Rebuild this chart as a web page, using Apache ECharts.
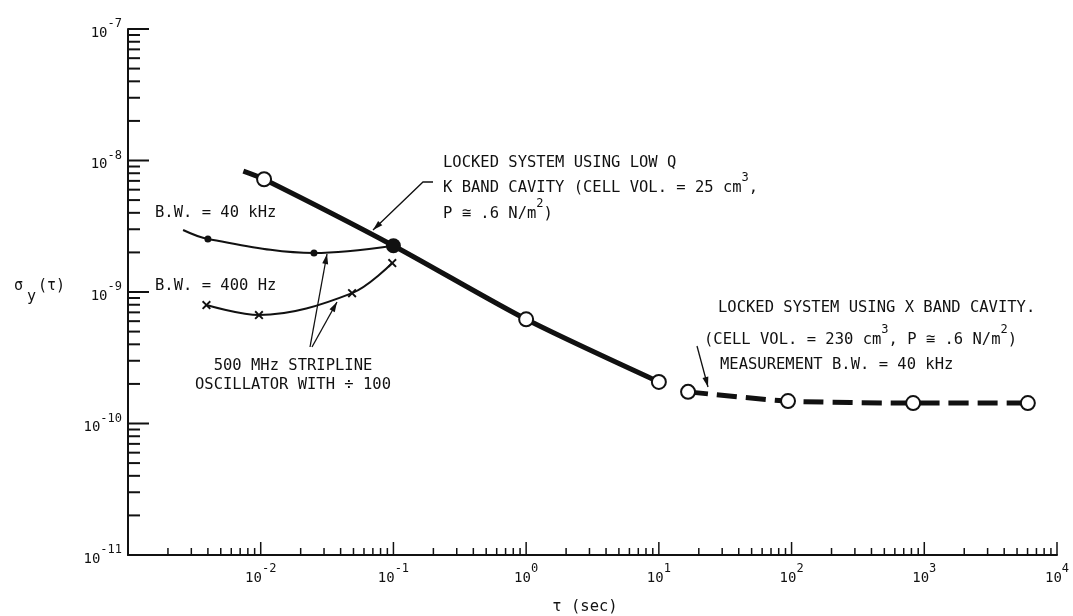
<!DOCTYPE html>
<html><head><meta charset="utf-8">
<script src="https://cdn.jsdelivr.net/npm/echarts@6/dist/echarts.min.js"></script>
<style>html,body{margin:0;padding:0;background:#fff}#c{width:1073px;height:616px}</style>
</head><body><div id="c"></div>
<script>
// ---- data ----
const lockedKTau    = [0.0074, 0.0106, 0.1, 1, 10];
const lockedKSigma  = [8.3e-9, 7.2e-9, 2.25e-9, 6.2e-10, 2.07e-10];
const lockedKMarker = ['none', 'open', 'filled', 'open', 'open'];
const lockedXTau    = [16.6, 94, 824, 6030];
const lockedXSigma  = [1.74e-10, 1.48e-10, 1.43e-10, 1.43e-10];
const bw40kTau      = [0.0026, 0.0040, 0.0252, 0.1];
const bw40kSigma    = [2.96e-9, 2.53e-9, 1.98e-9, 2.25e-9];
const bw40kMarker   = ['none', 'dot', 'dot', 'none'];
const bw400Tau      = [0.0039, 0.0097, 0.0488, 0.098];
const bw400Sigma    = [7.96e-10, 6.68e-10, 9.8e-10, 1.66e-9];
const xDecadeExponents = [-3, -2, -1, 0, 1, 2, 3, 4];
const yDecadeExponents = [-11, -10, -9, -8, -7];
const minorMantissas = [2, 3, 4, 5, 6, 7, 8, 9];

const FONT = '"DejaVu Sans Mono", monospace';
const INK = '#111';

function ticksFor(exps) {
  const out = [];
  exps.forEach((e, i) => {
    out.push([Math.pow(10, e), 1]);
    if (i < exps.length - 1) minorMantissas.forEach(m => out.push([m * Math.pow(10, e), 0]));
  });
  return out;
}
const xTicks = ticksFor(xDecadeExponents).filter(t => t[0] > 0.0011);
const yTicks = ticksFor(yDecadeExponents).filter(t => t[0] > 1.1e-11);

const openSym = {symbol: 'circle', symbolSize: 14, itemStyle: {color: '#fff', borderColor: INK, borderWidth: 2}};
const filledSym = {symbol: 'circle', symbolSize: 15, itemStyle: {color: INK, borderColor: INK, borderWidth: 0}};
const dotSym = {symbol: 'circle', symbolSize: 7, itemStyle: {color: INK, borderWidth: 0}};
const crossPath = 'path://M0,1.5L1.5,0L5,3.5L8.5,0L10,1.5L6.5,5L10,8.5L8.5,10L5,6.5L1.5,10L0,8.5L3.5,5Z';

function markerItem(x, y, kind) {
  const base = {value: [x, y]};
  if (kind === 'open') return Object.assign(base, openSym);
  if (kind === 'filled') return Object.assign(base, filledSym);
  if (kind === 'dot') return Object.assign(base, dotSym);
  return Object.assign(base, {symbol: 'none'});
}

const rich = {
  b: {fontFamily: FONT, fontSize: 14, color: INK, lineHeight: 22, verticalAlign: 'bottom'},
  s: {fontFamily: FONT, fontSize: 12, color: INK, verticalAlign: 'top'}
};
function powLabel(v) {
  const e = Math.round(Math.log10(v));
  return '{b|10}{s|' + e + '}';
}

function txt(x, y, str, align) {
  return {type: 'text', x: x, y: y, silent: true, z: 50,
    style: {text: str, fill: INK, font: '15.5px ' + FONT, textAlign: align || 'left', textVerticalAlign: 'middle',
      rich: {t: {fontFamily: FONT, fontSize: 15.5, color: INK, lineHeight: 24, verticalAlign: 'bottom'},
             s: {fontFamily: FONT, fontSize: 12, color: INK, verticalAlign: 'top'}}}};
}
function arrow(pts) {
  const [x1, y1] = pts[pts.length - 2], [x2, y2] = pts[pts.length - 1];
  const a = Math.atan2(y2 - y1, x2 - x1), L = 10, W = 3;
  const bx = x2 - L * Math.cos(a), by = y2 - L * Math.sin(a);
  const head = [[x2, y2], [bx + W * Math.sin(a), by - W * Math.cos(a)], [bx - W * Math.sin(a), by + W * Math.cos(a)]];
  return [
    {type: 'polyline', silent: true, z: 50, shape: {points: pts}, style: {stroke: INK, lineWidth: 1.3, fill: null}},
    {type: 'polygon', silent: true, z: 50, shape: {points: head}, style: {fill: INK}}
  ];
}

const chart = echarts.init(document.getElementById('c'), null, {renderer: 'canvas'});
const option = {
  backgroundColor: '#fff',
  animation: false,
  grid: {left: 128, right: 16, top: 29, bottom: 61, containLabel: false},
  xAxis: {
    type: 'log', min: 1e-3, max: 1e4, logBase: 10,
    axisLine: {show: true, lineStyle: {color: INK, width: 2}},
    axisTick: {show: false}, splitLine: {show: false}, minorTick: {show: false},
    axisLabel: {margin: 8, formatter: v => (Math.round(Math.log10(v)) === -3 ? '' : powLabel(v)), rich: rich}
  },
  yAxis: {
    type: 'log', min: 1e-11, max: 1e-7, logBase: 10,
    axisLine: {show: true, lineStyle: {color: INK, width: 2}},
    axisTick: {show: false}, splitLine: {show: false}, minorTick: {show: false},
    axisLabel: {margin: 6, formatter: powLabel, rich: rich}
  },
  series: [
    {type: 'custom', silent: true, z: 3, data: xTicks.map(t => [t[0], 1e-11, t[1]]),
      renderItem: (p, api) => {
        const c = api.coord([api.value(0), 1e-11]);
        const len = api.value(2) ? 13 : 7;
        return {type: 'line', shape: {x1: c[0], y1: c[1], x2: c[0], y2: c[1] - len}, style: {stroke: INK, lineWidth: 1.5}};
      }},
    {type: 'custom', silent: true, z: 3, data: yTicks.map(t => [1e-3, t[0], t[1]]),
      renderItem: (p, api) => {
        const c = api.coord([1e-3, api.value(1)]);
        const len = api.value(2) ? 21 : 12;
        return {type: 'line', shape: {x1: c[0], y1: c[1], x2: c[0] + len, y2: c[1]}, style: {stroke: INK, lineWidth: 2}};
      }},
    {name: 'B.W. = 40 kHz', type: 'line', smooth: 0.35, z: 4,
      data: bw40kTau.map((x, i) => markerItem(x, bw40kSigma[i], bw40kMarker[i])),
      lineStyle: {color: INK, width: 2}, itemStyle: {color: INK}},
    {name: 'B.W. = 400 Hz', type: 'line', smooth: 0.35, z: 4,
      data: bw400Tau.map((x, i) => [x, bw400Sigma[i]]),
      symbol: crossPath, symbolSize: 9, showSymbol: true,
      lineStyle: {color: INK, width: 2}, itemStyle: {color: INK}},
    {name: 'Locked K band', type: 'line', smooth: 0.25, z: 6,
      data: lockedKTau.map((x, i) => markerItem(x, lockedKSigma[i], lockedKMarker[i])),
      lineStyle: {color: INK, width: 5}, itemStyle: {color: INK}},
    {name: 'Locked X band', type: 'line', smooth: 0.2, z: 6,
      data: lockedXTau.map((x, i) => markerItem(x, lockedXSigma[i], 'open')),
      lineStyle: {color: INK, width: 5, type: [20, 9]}, itemStyle: {color: INK}}
  ],
  graphic: [
    txt(443, 163, 'LOCKED SYSTEM USING LOW Q'),
    txt(443, 184, '{t|K BAND CAVITY (CELL VOL. = 25 cm}{s|3}{t|,}'),
    txt(443, 210, '{t|P ≅ .6 N/m}{s|2}{t|)}'),
    ...arrow([[433, 182], [423, 182], [373, 230]]),
    txt(155, 213, 'B.W. = 40 kHz'),
    txt(155, 286, 'B.W. = 400 Hz'),
    txt(293, 366, '500 MHz STRIPLINE', 'center'),
    txt(293, 385, 'OSCILLATOR WITH ÷ 100', 'center'),
    ...arrow([[310, 347], [327, 254]]),
    ...arrow([[312, 347], [337, 302]]),
    txt(718, 308, 'LOCKED SYSTEM USING X BAND CAVITY.'),
    txt(704, 336, '{t|(CELL VOL. = 230 cm}{s|3}{t|, P ≅ .6 N/m}{s|2}{t|)}'),
    txt(720, 365, 'MEASUREMENT B.W. = 40 kHz'),
    ...arrow([[697, 346], [708, 387]]),
    {type: 'text', x: 14, y: 292, silent: true,
      style: {text: '{a|σ}{y|y}{a|(τ)}', textVerticalAlign: 'middle', fill: INK,
        rich: {a: {fontFamily: FONT, fontSize: 15, color: INK, lineHeight: 26, verticalAlign: 'top'},
               y: {fontFamily: FONT, fontSize: 15, color: INK, verticalAlign: 'bottom', padding: [0, 2, 0, 4]}}}},
    {type: 'text', x: 585, y: 607, silent: true,
      style: {text: 'τ (sec)', font: '15.5px ' + FONT, fill: INK, textAlign: 'center', textVerticalAlign: 'middle'}}
  ]
};
chart.setOption(option);
</script>
</body></html>
